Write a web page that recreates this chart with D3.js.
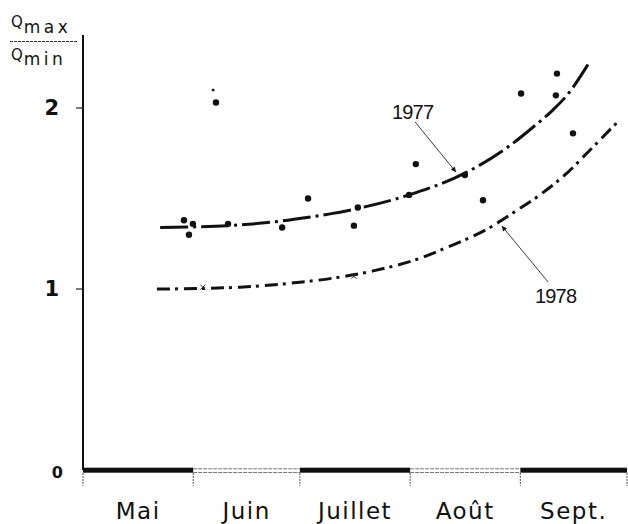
<!DOCTYPE html>
<html>
<head>
<meta charset="utf-8">
<script src="https://cdn.jsdelivr.net/npm/d3@7"></script>
<style>
  html, body { margin: 0; padding: 0; background: #fff; }
  svg { display: block; }
</style>
</head>
<body>
<svg id="chart" width="628" height="524"></svg>
<script>
// Seasonal ratio Qmax/Qmin, May to September (x = days since 1 May)
const monthNames = ["Mai", "Juin", "Juillet", "Août", "Sept."];
const monthStart = [0, 31, 61, 92, 123, 153];
const yTicks = [0, 1, 2];
const yTickLabels = ["0", "1", "2"];

// measured ratios (1977)
const points1977 = [
  [28.4, 1.38], [29.8, 1.30], [30.9, 1.36], [37.4, 2.03], [40.8, 1.36],
  [56.0, 1.34], [63.3, 1.50], [76.2, 1.35], [77.3, 1.45], [91.7, 1.52],
  [93.6, 1.69], [107.4, 1.63], [112.5, 1.49], [123.2, 2.08], [133.0, 2.07],
  [133.3, 2.19], [137.8, 1.86]
];
const pointsMinor = [[36.6, 2.10]];
const crosses1978 = [[33.7, 1.01], [76.2, 1.07]];

// fitted seasonal curves
const curve1977 = [
  [21.7, 1.34], [40.8, 1.35], [57.6, 1.38], [69.5, 1.415], [77.3, 1.445],
  [91.7, 1.52], [107.4, 1.64], [119.2, 1.78], [125.7, 1.88], [132.2, 1.99],
  [136.1, 2.07], [142.0, 2.24]
];
const curve1978 = [
  [20.8, 1.00], [33.7, 1.003], [44.1, 1.01], [57.4, 1.03], [70.3, 1.06],
  [81.6, 1.10], [94.8, 1.17], [102.4, 1.23], [114.5, 1.34], [120.9, 1.42],
  [128.5, 1.52], [136.1, 1.64], [141.7, 1.75], [150.2, 1.92]
];

// curve labels: [text, label day, label value, arrow from (day, value), arrow to (day, value)]
const curveLabels = [
  ["1977", 86.9, 1.939, [93.4, 1.923], [104.9, 1.646]],
  ["1978", 127.1, 0.923, [130.8, 1.039], [117.8, 1.348]]
];

const svg = d3.select("#chart");
const x = d3.scaleLinear().domain([0, 153]).range([83, 627]);
const y = d3.scaleLinear().domain([0, 2]).range([470, 108]);
const yTop = 2.403;

// arrowhead marker
svg.append("defs").append("marker")
  .attr("id", "head")
  .attr("viewBox", "0 0 10 10")
  .attr("refX", 10).attr("refY", 5)
  .attr("markerWidth", 9).attr("markerHeight", 5)
  .attr("markerUnits", "userSpaceOnUse")
  .attr("orient", "auto")
  .append("path").attr("d", "M0,0 L10,5 L0,10 Z").attr("fill", "#111");

// vertical axis
svg.append("line")
  .attr("x1", x(0)).attr("x2", x(0))
  .attr("y1", y(yTop)).attr("y2", y(0))
  .attr("stroke", "#111").attr("stroke-width", 2);

svg.selectAll(".ytick").data(yTicks.filter(d => d > 0)).join("line")
  .attr("class", "ytick")
  .attr("x1", x(0) - 7).attr("x2", x(0))
  .attr("y1", d => y(d)).attr("y2", d => y(d))
  .attr("stroke", "#222").attr("stroke-width", 1.2);

svg.selectAll(".ylab").data(yTicks).join("text")
  .attr("class", "ylab")
  .attr("x", d => d === 0 ? 63 : 59)
  .attr("y", d => y(d) + (d === 0 ? 2 : 0))
  .attr("text-anchor", "end")
  .attr("dominant-baseline", "central")
  .attr("font-family", "DejaVu Sans, sans-serif")
  .attr("font-weight", "bold")
  .attr("font-size", (d) => d === 0 ? 16 : 21)
  .attr("fill", "#111")
  .text((d, i) => yTickLabels[i]);

// axis title Qmax / Qmin
const title = svg.append("g")
  .attr("font-family", "DejaVu Sans, sans-serif")
  .attr("fill", "#111");
const t1 = title.append("text").attr("x", 11).attr("y", 27).attr("font-size", 15);
t1.append("tspan").text("Q");
t1.append("tspan").attr("dy", 6).attr("dx", 1).attr("letter-spacing", 3.5).attr("font-size", 17).text("max");
const t2 = title.append("text").attr("x", 11).attr("y", 60).attr("font-size", 15);
t2.append("tspan").text("Q");
t2.append("tspan").attr("dy", 5).attr("dx", 1).attr("letter-spacing", 3.5).attr("font-size", 17).text("min");
title.append("line")
  .attr("x1", 10).attr("x2", 77).attr("y1", 41.5).attr("y2", 41.5)
  .attr("stroke", "#333").attr("stroke-width", 1).attr("stroke-dasharray", "3 1");

// month band along the base line
const months = monthNames.map((m, i) => ({ name: m, a: monthStart[i], b: monthStart[i + 1], i }));
const band = svg.append("g");
months.forEach(m => {
  if (m.i % 2 === 0) {
    band.append("rect")
      .attr("x", x(m.a)).attr("width", x(m.b) - x(m.a))
      .attr("y", y(0) - 2.3).attr("height", 5)
      .attr("fill", "#111");
  } else {
    [-1.2, 2.5].forEach(off => {
      band.append("line")
        .attr("x1", x(m.a)).attr("x2", x(m.b))
        .attr("y1", y(0) + off).attr("y2", y(0) + off)
        .attr("stroke", "#777").attr("stroke-width", 1)
        .attr("stroke-dasharray", "4 1");
    });
  }
});
svg.selectAll(".xtick").data(monthStart).join("line")
  .attr("class", "xtick")
  .attr("x1", d => x(d)).attr("x2", d => x(d))
  .attr("y1", y(0) + 3).attr("y2", y(0) + 16)
  .attr("stroke", "#555").attr("stroke-width", 1)
  .attr("stroke-dasharray", "2 1");
svg.selectAll(".mlab").data(months).join("text")
  .attr("class", "mlab")
  .attr("x", d => x((d.a + d.b) / 2))
  .attr("y", 519)
  .attr("text-anchor", "middle")
  .attr("font-family", "DejaVu Sans, sans-serif")
  .attr("font-size", 23)
  .attr("letter-spacing", 1.5)
  .attr("fill", "#111")
  .text(d => d.name);

// curves
const line = d3.line().x(d => x(d[0])).y(d => y(d[1])).curve(d3.curveMonotoneX);
svg.append("path").datum(curve1977)
  .attr("d", line)
  .attr("fill", "none").attr("stroke", "#111").attr("stroke-width", 3)
  .attr("stroke-dasharray", "28 5 3 5");
svg.append("path").datum(curve1978)
  .attr("d", line)
  .attr("fill", "none").attr("stroke", "#111").attr("stroke-width", 3)
  .attr("stroke-dasharray", "13 5 3 6");

// measured points
svg.selectAll(".pt").data(points1977).join("circle")
  .attr("class", "pt")
  .attr("cx", d => x(d[0])).attr("cy", d => y(d[1]))
  .attr("r", 3.2).attr("fill", "#111");
svg.selectAll(".ptm").data(pointsMinor).join("circle")
  .attr("class", "ptm")
  .attr("cx", d => x(d[0])).attr("cy", d => y(d[1]))
  .attr("r", 1.5).attr("fill", "#222");
svg.selectAll(".cx").data(crosses1978).join("path")
  .attr("class", "cx")
  .attr("d", d => {
    const cx = x(d[0]), cy = y(d[1]), s = 2.5;
    return `M${cx - s},${cy - s}L${cx + s},${cy + s}M${cx - s},${cy + s}L${cx + s},${cy - s}`;
  })
  .attr("stroke", "#333").attr("stroke-width", 1);

// curve labels with leader arrows
curveLabels.forEach(([txt, ld, lv, from, to]) => {
  svg.append("line")
    .attr("x1", x(from[0])).attr("y1", y(from[1]))
    .attr("x2", x(to[0])).attr("y2", y(to[1]))
    .attr("stroke", "#222").attr("stroke-width", 0.9)
    .attr("marker-end", "url(#head)");
  svg.append("text")
    .attr("x", x(ld)).attr("y", y(lv))
    .attr("font-family", "Liberation Sans, Arial, sans-serif")
    .attr("font-size", 20)
    .attr("letter-spacing", -0.8)
    .attr("fill", "#111")
    .text(txt);
});
</script>
</body>
</html>
